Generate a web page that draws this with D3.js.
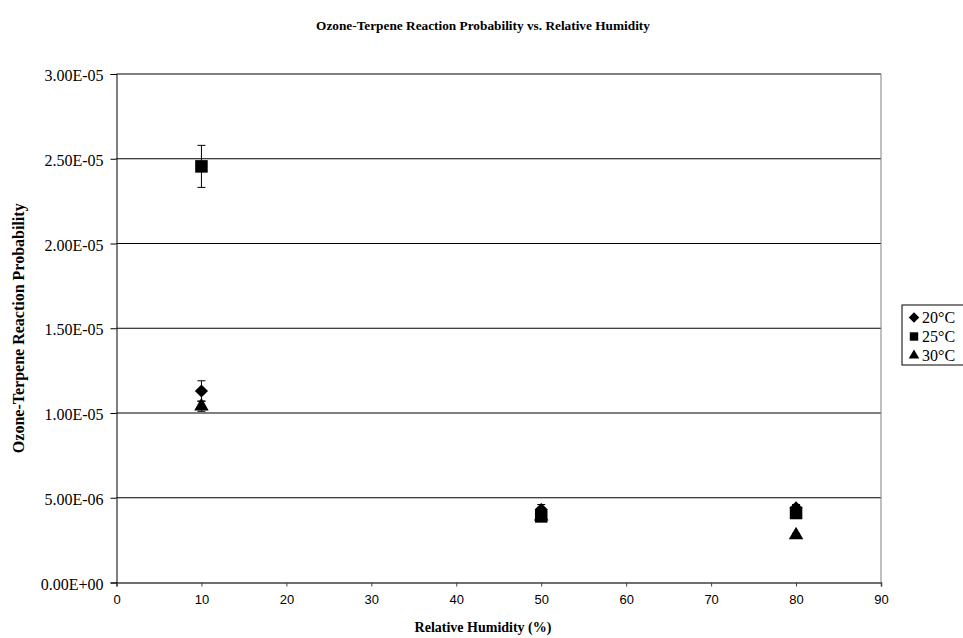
<!DOCTYPE html>
<html><head><meta charset="utf-8">
<script src="https://cdn.jsdelivr.net/npm/d3@7"></script>
<style>body{margin:0;background:#fff}</style>
</head><body>
<svg id="c" width="963" height="638"></svg>
<script>
const xTicks = [0,10,20,30,40,50,60,70,80,90];
const yTicks = [0,5e-6,1e-5,1.5e-5,2e-5,2.5e-5,3e-5];
const yTickLabels = ["0.00E+00","5.00E-06","1.00E-05","1.50E-05","2.00E-05","2.50E-05","3.00E-05"];
const seriesNames = ["20°C","25°C","30°C"];
const humidity20 = [10,50,80];
const values20 = [1.13e-5,4.3e-6,4.4e-6];
const errors20 = [0.6e-6,0.3e-6,0.2e-6];
const humidity25 = [10,50,80];
const values25 = [2.455e-5,3.9e-6,4.1e-6];
const errors25 = [1.24e-6,0.2e-6,0.2e-6];
const humidity30 = [10,50,80];
const values30 = [1.04e-5,3.9e-6,2.8e-6];
const errors30 = [0.3e-6,0.2e-6,0.1e-6];

const svg = d3.select("#c");
const L=116.5, R=881, T=74, B=582.5;
const x = d3.scaleLinear().domain([0,90]).range([L,R]);
const y = d3.scaleLinear().domain([0,3e-5]).range([B,T]);

svg.append("g").selectAll("line").data(yTicks.slice(1)).join("line")
  .attr("x1",L).attr("x2",R).attr("y1",d=>y(d)).attr("y2",d=>y(d))
  .attr("stroke","#000").attr("stroke-width",1);
svg.append("line").attr("x1",R).attr("x2",R).attr("y1",T).attr("y2",B).attr("stroke","#808080");

const xAxis = svg.append("g").attr("transform",`translate(0,${B})`)
  .call(d3.axisBottom(x).tickValues(xTicks).tickSize(4).tickPadding(8));
xAxis.select(".domain").attr("stroke","#404040").attr("stroke-width",1.5);
xAxis.selectAll(".tick line").attr("stroke","#404040");
xAxis.selectAll("text").attr("font-family","Liberation Sans, Arial, sans-serif").attr("font-size","13px").attr("fill","#000");

const yAxis = svg.append("g").attr("transform",`translate(${L},0)`)
  .call(d3.axisLeft(y).tickValues(yTicks).tickFormat((d,i)=>yTickLabels[i]).tickSize(6).tickPadding(7));
yAxis.select(".domain").attr("stroke","#000");
yAxis.selectAll("text").attr("font-family","Liberation Serif, Times New Roman, serif").attr("font-size","16px").attr("fill","#000").attr("dy","0.42em");

svg.append("text").attr("x",483).attr("y",30).attr("text-anchor","middle")
  .attr("font-family","Liberation Serif, serif").attr("font-weight","bold").attr("font-size","13.3px")
  .text("Ozone-Terpene Reaction Probability vs. Relative Humidity");
svg.append("text").attr("x",483).attr("y",632).attr("text-anchor","middle")
  .attr("font-family","Liberation Serif, serif").attr("font-weight","bold").attr("font-size","14px")
  .text("Relative Humidity (%)");
svg.append("text").attr("transform",`translate(24,${(T+B)/2}) rotate(-90)`).attr("text-anchor","middle")
  .attr("font-family","Liberation Serif, serif").attr("font-weight","bold").attr("font-size","16px")
  .text("Ozone-Terpene Reaction Probability");

const symbols = [d3.symbolDiamond2, d3.symbolSquare2, d3.symbolTriangle2];
const sizes = [110, 200, 150];
const sets = [[humidity20,values20,errors20],[humidity30,values30,errors30],[humidity25,values25,errors25]];
const symIdx = [0,2,1];
sets.forEach((s,k)=>{
  const [hx,vals,errs] = s;
  const g = svg.append("g");
  const pts = hx.map((h,i)=>({h,v:vals[i],e:errs[i]}));
  pts.forEach(p=>{
    const cx=x(p.h), y1=y(p.v+p.e), y2=y(p.v-p.e);
    g.append("line").attr("x1",cx).attr("x2",cx).attr("y1",y1).attr("y2",y2).attr("stroke","#000");
    g.append("line").attr("x1",cx-4).attr("x2",cx+4).attr("y1",y1).attr("y2",y1).attr("stroke","#000");
    g.append("line").attr("x1",cx-4).attr("x2",cx+4).attr("y1",y2).attr("y2",y2).attr("stroke","#000");
  });
  g.selectAll("path").data(pts).join("path")
    .attr("transform",p=>`translate(${x(p.h)},${y(p.v)})`)
    .attr("d",d3.symbol(symbols[symIdx[k]], sizes[symIdx[k]]))
    .attr("fill","#000");
});

const lg = svg.append("g").attr("transform","translate(902,305)");
lg.append("rect").attr("x",0).attr("y",0).attr("width",75).attr("height",60)
  .attr("fill","#fff").attr("stroke","#000");
seriesNames.forEach((n,i)=>{
  const yy = 12.5 + i*19;
  lg.append("path").attr("transform",`translate(12,${yy})`)
    .attr("d",d3.symbol(symbols[i], [70,90,80][i])).attr("fill","#000");
  lg.append("text").attr("x",20).attr("y",yy+5.5).attr("font-family","Liberation Serif, serif")
    .attr("font-size","16px").text(n);
});
</script>
</body></html>
